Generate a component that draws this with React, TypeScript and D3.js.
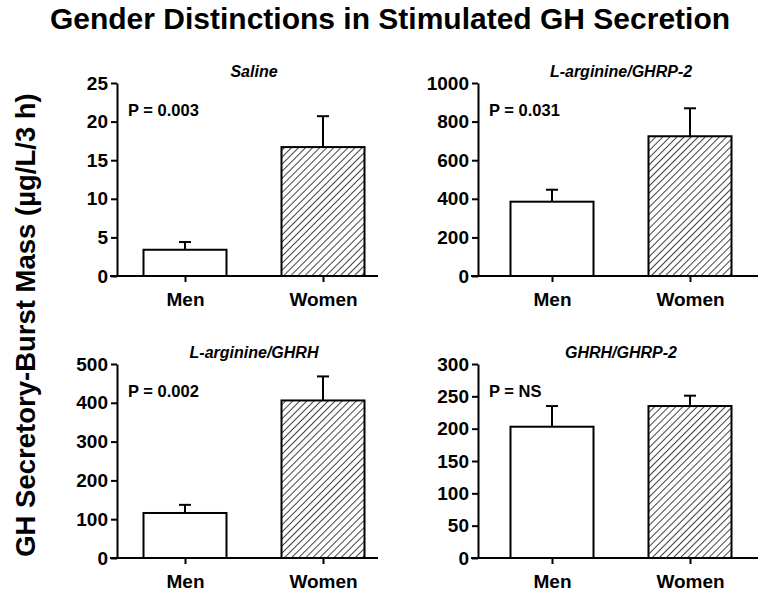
import React, { useEffect, useRef } from 'react'
import * as d3 from 'd3'

// data
const categories = ['Men', 'Women']
const panelTitles = ['Saline', 'L-arginine/GHRP-2', 'L-arginine/GHRH', 'GHRH/GHRP-2']
const pLabels = ['P = 0.003', 'P = 0.031', 'P = 0.002', 'P = NS']
const yMax = [25, 1000, 500, 300]
const yStep = [5, 200, 100, 50]
const means = [
  [3.4, 16.7],
  [385, 724],
  [116, 406],
  [203, 235],
]
const errors = [
  [1.0, 4.0],
  [62, 145],
  [21, 62],
  [32, 16],
]

const W = 773
const H = 609
const FONT = '"Liberation Sans", Arial, sans-serif'

export default function App() {
  const ref = useRef<SVGSVGElement>(null)

  useEffect(() => {
    const svg = d3.select(ref.current)
    svg.selectAll('*').remove()

    // hatch pattern for the women bars
    const defs = svg.append('defs')
    const pat = defs.append('pattern')
      .attr('id', 'hatch')
      .attr('patternUnits', 'userSpaceOnUse')
      .attr('width', 5)
      .attr('height', 5)
      .attr('patternTransform', 'rotate(45)')
    pat.append('line')
      .attr('x1', 0).attr('y1', 0).attr('x2', 0).attr('y2', 5)
      .attr('stroke', '#111').attr('stroke-width', 1.6)

    svg.append('text')
      .attr('x', 390).attr('y', 29)
      .attr('text-anchor', 'middle')
      .attr('font-family', FONT).attr('font-weight', 'bold').attr('font-size', 30)
      .text('Gender Distinctions in Stimulated GH Secretion')

    svg.append('text')
      .attr('transform', 'translate(35,325) rotate(-90)')
      .attr('text-anchor', 'middle')
      .attr('font-family', FONT).attr('font-weight', 'bold').attr('font-size', 27.5)
      .text('GH Secretory-Burst Mass (\u00b5g/L/3 h)')

    // column / row geometry
    const cols = [
      { axisX: 117, end: 378, c0: 185, c1: 323 },
      { axisX: 478, end: 758, c0: 552, c1: 690 },
    ]
    const rows = [
      { top: 83, zero: 276 },
      { top: 364, zero: 558 },
    ]
    const barW = 83

    panelTitles.forEach((title, i) => {
      const col = cols[i % 2]
      const row = rows[Math.floor(i / 2)]
      const g = svg.append('g')

      const y = d3.scaleLinear().domain([0, yMax[i]]).range([row.zero, row.top])
      const x = d3.scalePoint<string>().domain(categories).range([col.c0, col.c1])

      // bars
      categories.forEach((c, j) => {
        const cx = x(c) as number
        const v = means[i][j]
        const e = errors[i][j]
        // error bar (upper only)
        g.append('line')
          .attr('x1', cx).attr('x2', cx)
          .attr('y1', y(v)).attr('y2', y(v + e))
          .attr('stroke', '#000').attr('stroke-width', 2)
        g.append('line')
          .attr('x1', cx - 6).attr('x2', cx + 6)
          .attr('y1', y(v + e)).attr('y2', y(v + e))
          .attr('stroke', '#000').attr('stroke-width', 2)
        g.append('rect')
          .attr('x', cx - barW / 2)
          .attr('y', y(v))
          .attr('width', barW)
          .attr('height', y(0) - y(v))
          .attr('fill', j === 0 ? '#fff' : 'url(#hatch)')
          .attr('stroke', '#000').attr('stroke-width', 2)
      })

      // y axis
      const ticks = d3.range(0, yMax[i] + yStep[i] / 2, yStep[i])
      const yAxis = g.append('g')
        .attr('transform', `translate(${col.axisX},0)`)
        .call(d3.axisLeft(y).tickValues(ticks).tickFormat(d3.format('d'))
          .tickSize(6).tickPadding(3).tickSizeOuter(0))
      yAxis.select('.domain').attr('stroke-width', 2)
      yAxis.selectAll('.tick line').attr('stroke-width', 2)
      yAxis.selectAll('.tick text')
        .attr('font-family', FONT).attr('font-weight', 'bold').attr('font-size', 19)
        .attr('fill', '#000')

      // x axis
      const xAxis = g.append('g')
        .attr('transform', `translate(0,${row.zero})`)
        .call(d3.axisBottom(x).tickSize(6).tickPadding(11).tickSizeOuter(0))
      xAxis.select('.domain')
        .attr('d', `M${col.axisX - 7},0H${col.end}`)
        .attr('stroke-width', 2)
      xAxis.selectAll('.tick line').attr('stroke-width', 2)
      xAxis.selectAll('.tick text')
        .attr('font-family', FONT).attr('font-weight', 'bold').attr('font-size', 19)
        .attr('fill', '#000')

      // panel title
      g.append('text')
        .attr('x', (col.c0 + col.c1) / 2)
        .attr('y', row.top - 6)
        .attr('text-anchor', 'middle')
        .attr('font-family', FONT).attr('font-weight', 'bold').attr('font-style', 'italic')
        .attr('font-size', 16)
        .text(title)

      // p value
      g.append('text')
        .attr('x', col.axisX + 11)
        .attr('y', row.top + 33)
        .attr('font-family', FONT).attr('font-weight', 'bold').attr('font-size', 16.5)
        .text(pLabels[i])
    })
  }, [])

  return (
    <svg ref={ref} width={W} height={H}
      style={{ position: 'absolute', left: 0, top: 0, background: '#fff' }} />
  )
}
